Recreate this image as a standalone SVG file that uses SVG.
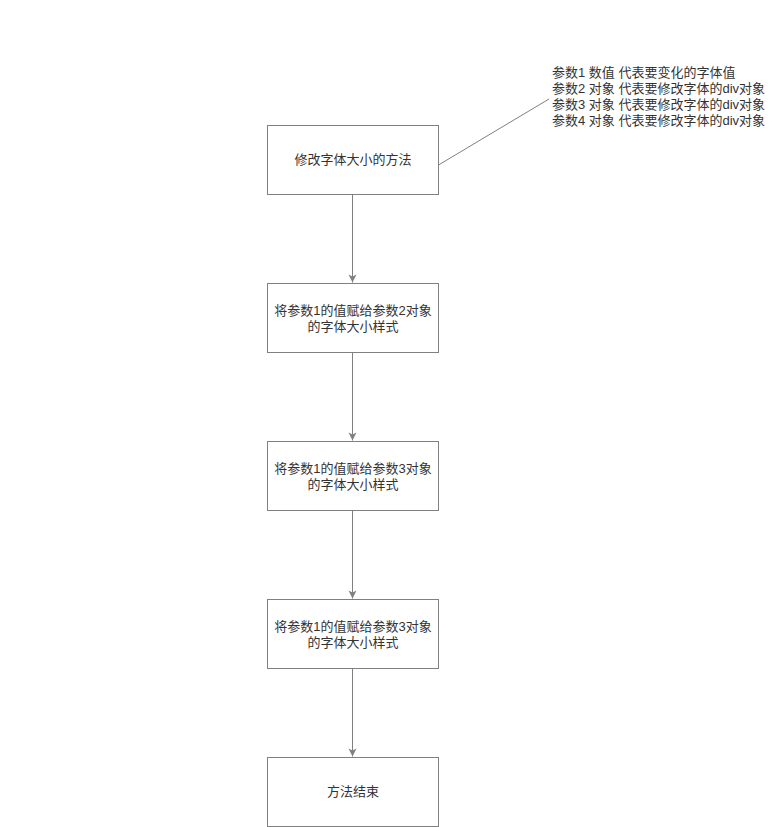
<svg xmlns="http://www.w3.org/2000/svg" width="771" height="827" viewBox="0 0 771 827">
<defs>
<style>
.box{fill:#fff;stroke:#808080;stroke-width:1}
.t{font-family:"Liberation Sans","Noto Sans CJK SC",sans-serif;font-size:13px;fill:#333}
.c{stroke:#808080;stroke-width:1;fill:none}
</style>
<marker id="ah" markerWidth="10" markerHeight="10" refX="9" refY="5" orient="auto" markerUnits="userSpaceOnUse">
<path d="M1,1 L9,5 L1,9 L3,5 Z" fill="#808080"/>
</marker>
</defs>
<rect width="771" height="827" fill="#fff"/>
<g id="connectors">
<line class="c" x1="352.5" y1="194.5" x2="352.5" y2="282.5" marker-end="url(#ah)"/>
<line class="c" x1="352.5" y1="352.5" x2="352.5" y2="440.5" marker-end="url(#ah)"/>
<line class="c" x1="352.5" y1="510.5" x2="352.5" y2="598.5" marker-end="url(#ah)"/>
<line class="c" x1="352.5" y1="668.5" x2="352.5" y2="756.5" marker-end="url(#ah)"/>
<line class="c" x1="438.5" y1="165" x2="549" y2="99"/>
</g>
<g id="n1">
<rect class="box" x="267.5" y="125.5" width="171" height="69"/>
<text class="t" x="353" y="164" text-anchor="middle">修改字体大小的方法</text>
</g>
<g id="n2">
<rect class="box" x="267.5" y="283.5" width="171" height="69"/>
<text class="t" x="353" y="315" text-anchor="middle">将参数1的值赋给参数2对象</text>
<text class="t" x="353" y="331" text-anchor="middle">的字体大小样式</text>
</g>
<g id="n3">
<rect class="box" x="267.5" y="441.5" width="171" height="69"/>
<text class="t" x="353" y="473" text-anchor="middle">将参数1的值赋给参数3对象</text>
<text class="t" x="353" y="489" text-anchor="middle">的字体大小样式</text>
</g>
<g id="n4">
<rect class="box" x="267.5" y="599.5" width="171" height="69"/>
<text class="t" x="353" y="631" text-anchor="middle">将参数1的值赋给参数3对象</text>
<text class="t" x="353" y="647" text-anchor="middle">的字体大小样式</text>
</g>
<g id="n5">
<rect class="box" x="267.5" y="757.5" width="171" height="69"/>
<text class="t" x="353" y="796" text-anchor="middle">方法结束</text>
</g>
<g id="note">
<text class="t" x="552" y="77">参数1 数值 代表要变化的字体值</text>
<text class="t" x="552" y="93">参数2 对象 代表要修改字体的div对象</text>
<text class="t" x="552" y="109">参数3 对象 代表要修改字体的div对象</text>
<text class="t" x="552" y="125">参数4 对象 代表要修改字体的div对象</text>
</g>
</svg>
